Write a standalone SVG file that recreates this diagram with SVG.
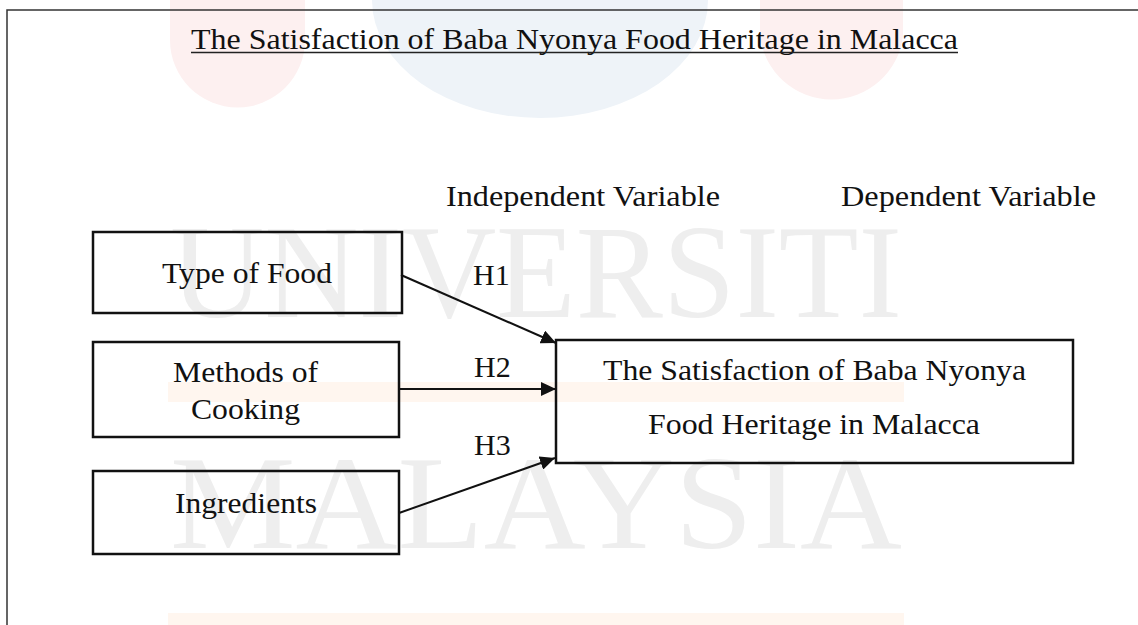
<svg xmlns="http://www.w3.org/2000/svg" width="1138" height="625" viewBox="0 0 1138 625">
  <style>
    .t { font-family: "Liberation Serif", "Times New Roman", serif; font-size: 30px; fill: #111; }
    .wm { font-family: "Liberation Serif", "Times New Roman", serif; font-size: 133px; fill: #eeeeee; }
    .box { fill: none; stroke: #111; stroke-width: 2.5; }
    .edge { fill: none; stroke: #111; stroke-width: 2; marker-end: url(#arrow); }
  </style>
  <defs>
    <marker id="arrow" markerUnits="userSpaceOnUse" markerWidth="15" markerHeight="14" refX="15" refY="7" orient="auto">
      <path d="M0,0 L15,7 L0,14 z" fill="#111"/>
    </marker>
  </defs>
  <rect width="1138" height="625" fill="#ffffff"/>
  <g id="watermark">
    <path d="M170,0 V40 A67,67 0 0 0 305,40 V0 z" fill="#fdf0f0"/>
    <path d="M372,0 V0 A168,118 0 0 0 708,0 z" fill="#eef3f8"/>
    <path d="M760,0 V36 A72,72 0 0 0 903,36 V0 z" fill="#fdf0f0"/>
    <rect x="168" y="382" width="736" height="20" fill="#fff6ef"/>
    <rect x="168" y="613" width="736" height="12" fill="#fff6ef"/>
    <text class="wm" x="170" y="317" textLength="732" lengthAdjust="spacingAndGlyphs">UNIVERSITI</text>
    <text class="wm" x="170" y="548" textLength="732" lengthAdjust="spacingAndGlyphs">MALAYSIA</text>
  </g>
  <path id="frame" d="M7,625 V10 H1140" fill="none" stroke="#333" stroke-width="1.5"/>
  <g id="title">
    <text class="t" x="191" y="49" textLength="767" lengthAdjust="spacingAndGlyphs">The Satisfaction of Baba Nyonya Food Heritage in Malacca</text>
    <line x1="191" y1="52.5" x2="958" y2="52.5" stroke="#222" stroke-width="1.5"/>
  </g>
  <g id="headers">
    <text class="t" x="446" y="206" textLength="274" lengthAdjust="spacingAndGlyphs">Independent Variable</text>
    <text class="t" x="841" y="206" textLength="255" lengthAdjust="spacingAndGlyphs">Dependent Variable</text>
  </g>
  <g id="node-type">
    <rect class="box" x="93" y="232" width="309" height="81"/>
    <text class="t" x="162" y="283" textLength="170" lengthAdjust="spacingAndGlyphs">Type of Food</text>
  </g>
  <g id="node-methods">
    <rect class="box" x="93" y="342" width="306" height="95"/>
    <text class="t" x="173" y="382" textLength="145" lengthAdjust="spacingAndGlyphs">Methods of</text>
    <text class="t" x="191" y="419" textLength="109" lengthAdjust="spacingAndGlyphs">Cooking</text>
  </g>
  <g id="node-ingredients">
    <rect class="box" x="93" y="471" width="306" height="83"/>
    <text class="t" x="175" y="513" textLength="142" lengthAdjust="spacingAndGlyphs">Ingredients</text>
  </g>
  <g id="node-satisfaction">
    <rect class="box" x="556" y="340" width="517" height="123"/>
    <text class="t" x="603" y="380" textLength="423" lengthAdjust="spacingAndGlyphs">The Satisfaction of Baba Nyonya</text>
    <text class="t" x="648" y="434" textLength="332" lengthAdjust="spacingAndGlyphs">Food Heritage in Malacca</text>
  </g>
  <g id="connectors">
    <line class="edge" x1="401" y1="275" x2="556" y2="343"/>
    <line class="edge" x1="399" y1="389" x2="556" y2="389"/>
    <line class="edge" x1="399" y1="513" x2="555" y2="458"/>
    <text class="t" x="473" y="285">H1</text>
    <text class="t" x="474" y="377">H2</text>
    <text class="t" x="474" y="455">H3</text>
  </g>
</svg>
